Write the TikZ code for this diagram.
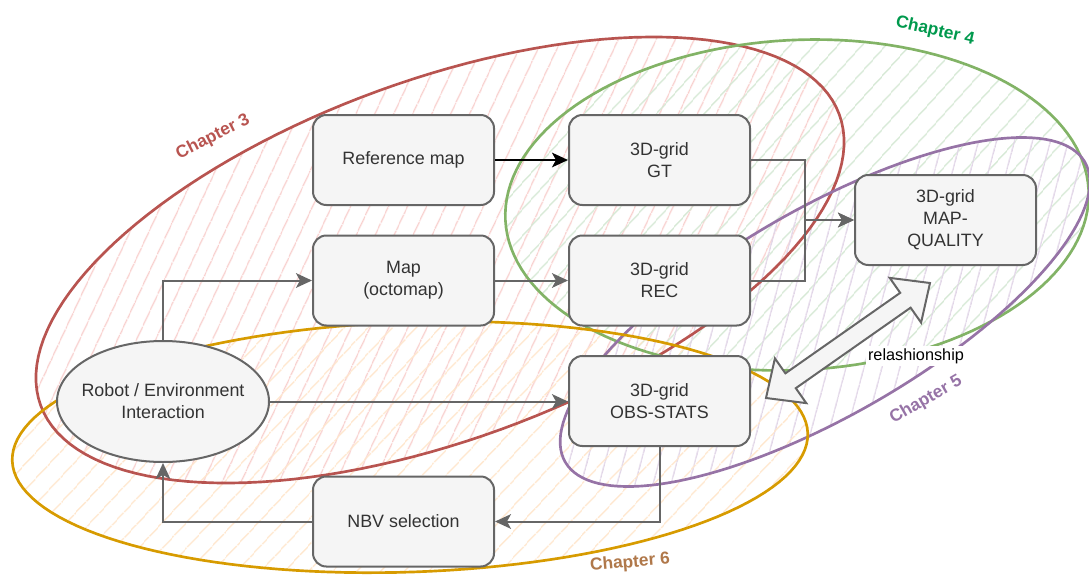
\documentclass[tikz,border=0pt]{standalone}
\usepackage{fontspec}
\setmainfont{Liberation Sans}
\usetikzlibrary{shapes.geometric,arrows.meta,patterns.meta,calc}
\definecolor{redline}{HTML}{B85450}
\definecolor{redhatch}{HTML}{F8CECC}
\definecolor{greenline}{HTML}{82B366}
\definecolor{greenhatch}{HTML}{D5E8D4}
\definecolor{purpleline}{HTML}{9673A6}
\definecolor{purplehatch}{HTML}{E1D5E7}
\definecolor{orangeline}{HTML}{D79B00}
\definecolor{orangehatch}{HTML}{FFE6CC}
\definecolor{chfour}{HTML}{00994D}
\definecolor{chsix}{RGB}{176,120,74}
\definecolor{boxline}{HTML}{666666}
\definecolor{boxfill}{HTML}{F5F5F5}
\definecolor{txt}{HTML}{333333}
\newcommand{\chell}[6]{%
  \path[#6] plot[domain=0:360,samples=145,variable=\s]
    ({#1+#3*cos(\s)*cos(#5)+#4*sin(\s)*sin(#5)},
     {#2-#3*cos(\s)*sin(#5)+#4*sin(\s)*cos(#5)}) -- cycle;}
\begin{document}
\begin{tikzpicture}[x=0.75pt,y=-0.75pt,
  box/.style={draw=boxline, fill=boxfill, line width=1.5pt, rounded corners=10pt,
    minimum width=135.75pt, minimum height=67.5pt, align=center, text=txt,
    inner sep=2pt, font=\fontsize{13.4}{16.5}\selectfont},
  roundbox/.style={box, shape=ellipse, rounded corners=0pt, inner xsep=-6pt, inner ysep=1pt,
    minimum width=159pt, minimum height=90.75pt},
  conn/.style={draw=boxline, line width=1.5pt, -{Stealth[length=12pt,width=11pt,inset=3pt]}},
  blackconn/.style={conn, draw=black},
  chlabel/.style={font=\fontsize{13}{15}\selectfont\bfseries, inner sep=0pt},
  hatch/.style={pattern={Lines[angle=#1,distance=13pt,line width=1.1pt]}},
  chline/.style={draw=#1, line width=2pt},
  bigarrow/.style={draw=boxline, fill=boxfill, line width=1.5pt}]
\useasboundingbox (0,0) rectangle (1089,578);

% chapter ellipses: hatched fills
\chell{440}{260}{425}{180}{20}{hatch=65, pattern color=redhatch}
\chell{797}{205}{292}{165}{3}{hatch=48, pattern color=greenhatch}
\chell{825}{312}{300}{103}{30}{hatch=75, pattern color=purplehatch}
\chell{410}{447}{398}{125}{2}{hatch=47, pattern color=orangehatch}
% chapter ellipses: outlines
\chell{440}{260}{425}{180}{20}{chline=redline}
\chell{797}{205}{292}{165}{3}{chline=greenline}
\chell{825}{312}{300}{103}{30}{chline=purpleline}
\chell{410}{447}{398}{125}{2}{chline=orangeline}

% chapter labels
\node[chlabel, text=redline, rotate=27] (ch3) at (213,137) {Chapter 3};
\node[chlabel, text=chfour, rotate=-13] (ch4) at (935,31) {Chapter 4};
\node[chlabel, text=purpleline, rotate=30] (ch5) at (926,400) {Chapter 5};
\node[chlabel, text=chsix, rotate=5] (ch6) at (630,563) {Chapter 6};

% nodes
\node[box] (ref) at (403.5,160) {Reference map};
\node[box] (map) at (403.5,280.5) {Map\\(octomap)};
\node[box] (gt) at (659.5,160) {3D-grid\\GT};
\node[box] (rec) at (659.5,280.5) {3D-grid\\REC};
\node[box] (obs) at (659.5,401) {3D-grid\\OBS-STATS};
\node[box] (mq) at (945.5,220) {3D-grid\\MAP-\\QUALITY};
\node[box] (nbv) at (403.5,521.5) {NBV selection};
\node[roundbox] (robot) at (163,401.5) {Robot / Environment\\Interaction};

% connectors
\draw[blackconn] (ref.east) -- (gt.west);
\draw[conn] (map.east) -- (rec.west);
\draw[conn] (gt.east) -- ++(54,0) |- (mq.west);
\draw[conn] (rec.east) -- ++(54,0) |- (mq.west);
\draw[conn] (robot.north) |- (map.west);
\draw[conn] (robot.east) -- (robot.east -| obs.west);
\draw[conn] (obs.south) |- (nbv.east);
\draw[conn] (nbv.west) -| (robot.south);

% relationship double arrow
\coordinate (ra) at (766,398);
\coordinate (rb) at (930,283);
\path (ra) -- (rb) coordinate[pos=0.15] (ha) coordinate[pos=0.85] (hb);
\draw[bigarrow] (ra) -- ($(ha)!20.5pt!90:(rb)$) -- ($(ha)!6.8pt!90:(rb)$)
  -- ($(hb)!6.8pt!-90:(ra)$) -- ($(hb)!20.5pt!-90:(ra)$) -- (rb)
  -- ($(hb)!20.5pt!90:(ra)$) -- ($(hb)!6.8pt!90:(ra)$)
  -- ($(ha)!6.8pt!-90:(rb)$) -- ($(ha)!20.5pt!-90:(rb)$) -- cycle;
\node[fill=white, inner sep=1.5pt, font=\fontsize{12.2}{14}\selectfont] (rel) at (916,356) {relashionship};
\end{tikzpicture}
\end{document}
